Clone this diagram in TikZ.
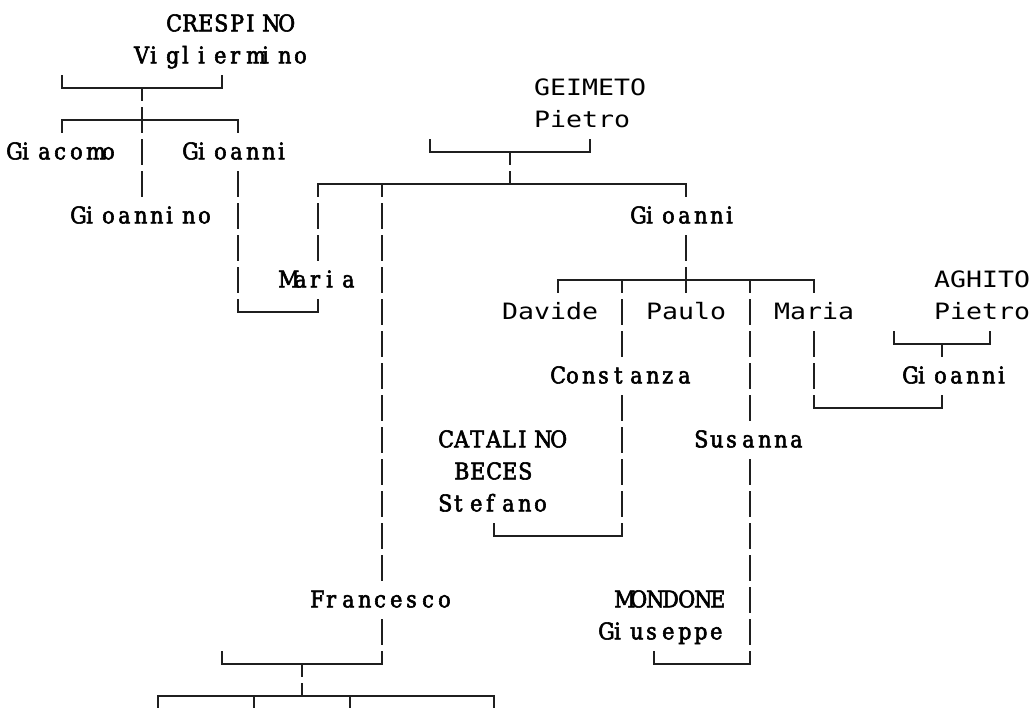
\documentclass[tikz,border=0pt]{standalone}
\usepackage{fontspec}
\newfontfamily\serifface[FakeStretch=0.9,FakeBold=2.5]{DejaVu Serif}
\newfontfamily\monoface[FakeStretch=1.18]{DejaVu Sans Mono}
\newcommand\sfnt{\serifface\fontsize{23pt}{23pt}\selectfont}
\newcommand\mfnt{\monoface\fontsize{22.5pt}{22.5pt}\selectfont}
\makeatletter
\newcommand\cl[1]{\@tfor\cellch:=#1\do{\makebox[16pt][l]{\cellch}}}
\newcommand\cm[1]{\@tfor\cellch:=#1\do{\makebox[16pt][c]{\cellch}}}
\makeatother
\begin{document}
\begin{tikzpicture}[x=16pt,y=-32pt,
  hl/.style={line width=2pt, draw=black!88, line cap=rect},
  v0/.style={line width=2pt, draw=black!88, dash pattern=on 26pt off 6pt},
  vc/.style={v0, dash phase=13pt},
  sname/.style={font=\sfnt, inner sep=0pt, anchor=base west},
  mname/.style={font=\mfnt, inner sep=0pt, anchor=base west}]
\path[use as bounding box, fill=white] (-0.875,-0.75) rectangle (63.625,21.34375);

% names
\node[sname] (crespino) at (9.5,0.23) {\cl{CRESPINO}};
\node[sname] (viglier) at (7.5,1.23) {\cl{Vigliermino}};
\node[sname] (giacomo) at (-0.5,4.23) {\cl{Giacomo}};
\node[sname] (gioanniA) at (10.5,4.23) {\cl{Gioanni}};
\node[sname] (gioannino) at (3.5,6.23) {\cl{Gioannino}};
\node[sname] (mariaA) at (16.5,8.23) {\cl{Maria}};
\node[mname] (geimeto) at (32.5,2.23) {\cm{GEIMETO}};
\node[mname] (pietroG) at (32.5,3.23) {\cm{Pietro}};
\node[sname] (gioanniB) at (38.5,6.23) {\cl{Gioanni}};
\node[mname] (davide) at (30.5,9.23) {\cm{Davide}};
\node[mname] (paulo) at (39.5,9.23) {\cm{Paulo}};
\node[mname] (mariaB) at (47.5,9.23) {\cm{Maria}};
\node[mname] (aghito) at (57.5,8.23) {\cm{AGHITO}};
\node[mname] (pietroA) at (57.5,9.23) {\cm{Pietro}};
\node[sname] (constanza) at (33.5,11.23) {\cl{Constanza}};
\node[sname] (gioanniC) at (55.5,11.23) {\cl{Gioanni}};
\node[sname] (catalino) at (26.5,13.23) {\cl{CATALINO}};
\node[sname] (beces) at (27.5,14.23) {\cl{BECES}};
\node[sname] (stefano) at (26.5,15.23) {\cl{Stefano}};
\node[sname] (susanna) at (42.5,13.23) {\cl{Susanna}};
\node[sname] (francesco) at (18.5,18.23) {\cl{Francesco}};
\node[sname] (mondone) at (37.5,18.23) {\cl{MONDONE}};
\node[sname] (giuseppe) at (36.5,19.23) {\cl{Giuseppe}};

% horizontal connectors
\foreach \n/\r/\a/\b in {h1/2/3/13, h2/3/3/14, h3/9/14/19, h4/4/26/36,
  h5/5/19/42, h6/8/34/50, h7/16/30/38, h8/20/40/46, h9/12/50/58,
  h10/10/55/61, h11/20/13/23, h12/21/9/30}
  {\coordinate (\n-l) at (\a,\r); \coordinate (\n-r) at (\b,\r);
   \draw[hl] (\n-l) -- (\n-r);}

% vertical connectors
\foreach \n/\x/\a/\b/\s in {
  v1/3/1.59375/2/v0, v2/13/1.59375/2/v0, v3/8/2/5.40625/vc,
  v4/3/3/3.40625/vc, v5/14/3/3.40625/vc, v6/14/4.59375/9/v0,
  v7/19/8.59375/9/v0,
  v8/26/3.59375/4/v0, v9/36/3.59375/4/v0, v10/31/4/5/vc,
  v11/19/5/7.40625/vc, v12/23/5/17.40625/vc, v13/42/5/5.40625/vc,
  v14/42/6.59375/8.40625/v0,
  v15/34/8/8.40625/vc, v16/38/8/10.40625/vc, v17/38/11.59375/16/v0,
  v18/30/15.59375/16/v0, v19/46/8/12.40625/vc, v20/46/13.59375/20/v0,
  v21/40/19.59375/20/v0, v22/50/8/8.40625/vc, v23/50/9.59375/12/v0,
  v24/58/11.59375/12/v0,
  v25/55/9.59375/10/v0, v26/61/9.59375/10/v0, v27/58/10/10.40625/vc,
  v28/23/18.59375/20/v0, v29/13/19.59375/20/v0, v30/18/20/21/vc,
  v31/9/21/21.40625/vc, v32/15/21/21.40625/vc, v33/21/21/21.40625/vc,
  v34/30/21/21.40625/vc}
  {\coordinate (\n-t) at (\x,\a); \coordinate (\n-b) at (\x,\b);
   \draw[\s] (\n-t) -- (\n-b);}
\end{tikzpicture}
\end{document}
